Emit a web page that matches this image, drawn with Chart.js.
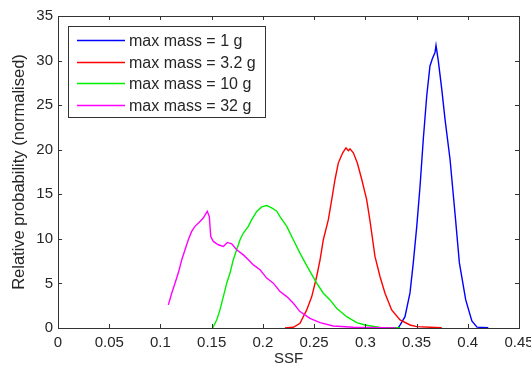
<!DOCTYPE html>
<html>
<head>
<meta charset="utf-8">
<script src="https://cdn.jsdelivr.net/npm/chart.js@4/dist/chart.umd.min.js"></script>
<style>
  html, body { margin: 0; padding: 0; background: #ffffff; }
  canvas { display: block; }
</style>
</head>
<body>
<canvas id="ssfChart" width="531" height="368"></canvas>
<script>
// Series labels
const massLabels = ['max mass = 1 g', 'max mass = 3.2 g', 'max mass = 10 g', 'max mass = 32 g'];
const seriesColors = ['#0000ff', '#ff0000', '#00ee00', '#ff00ff'];

// max mass = 1 g
const ssf1g  = [0.332, 0.334, 0.3387, 0.3436, 0.3468, 0.3502, 0.3534, 0.3566, 0.3599, 0.3631, 0.3654, 0.368, 0.369, 0.3712, 0.3746, 0.3778, 0.3827, 0.3875, 0.3918, 0.398, 0.404, 0.409, 0.42];
const prob1g = [0, 0.34, 1.27, 3.94, 7.31, 11.4, 15.9, 21.2, 26.0, 29.4, 30.2, 30.9, 31.7, 30.0, 26.8, 23.4, 18.9, 12.9, 7.3, 3.15, 0.8, 0.1, 0.02];

// max mass = 3.2 g
const ssf3g  = [0.2216, 0.2297, 0.2362, 0.2428, 0.2477, 0.2525, 0.2558, 0.259, 0.2639, 0.2672, 0.2704, 0.2736, 0.2779, 0.2811, 0.2835, 0.285, 0.2883, 0.2922, 0.2965, 0.3013, 0.3046, 0.3094, 0.3143, 0.3192, 0.3257, 0.3339, 0.3436, 0.3502, 0.3746];
const prob3g = [0, 0.08, 0.53, 2.03, 3.52, 5.78, 7.65, 9.9, 12.15, 14.4, 16.66, 18.5, 19.66, 20.2, 19.9, 20.1, 19.66, 18.5, 16.66, 14.4, 12.0, 8.03, 5.78, 3.9, 2.03, 0.9, 0.34, 0.15, 0.02];

// max mass = 10 g
const ssf10g  = [0.151, 0.1549, 0.1581, 0.1614, 0.1647, 0.1679, 0.1711, 0.1744, 0.1777, 0.1809, 0.1858, 0.1891, 0.194, 0.1988, 0.2037, 0.2086, 0.2135, 0.2167, 0.2233, 0.2297, 0.2362, 0.2428, 0.2525, 0.259, 0.2655, 0.272, 0.2818, 0.2916, 0.2997, 0.3143, 0.3339];
const prob10g = [0, 0.9, 2.03, 3.52, 5.03, 6.16, 7.65, 8.78, 9.9, 10.65, 11.4, 12.15, 13.08, 13.58, 13.73, 13.47, 13.1, 12.5, 11.4, 9.9, 8.4, 7.0, 5.03, 3.9, 3.15, 2.21, 1.27, 0.6, 0.34, 0.05, 0.02];

// max mass = 32 g
const ssf32g  = [0.1077, 0.111, 0.1142, 0.1174, 0.1208, 0.124, 0.1272, 0.1305, 0.1337, 0.1386, 0.1418, 0.1457, 0.1477, 0.1491, 0.1516, 0.1565, 0.1614, 0.1653, 0.1696, 0.1744, 0.1809, 0.1858, 0.1907, 0.1972, 0.2037, 0.2102, 0.2167, 0.2233, 0.2297, 0.2362, 0.246, 0.2558, 0.2687, 0.288, 0.33];
const prob32g = [2.59, 3.9, 5.03, 6.16, 7.65, 8.78, 9.9, 10.84, 11.4, 11.96, 12.34, 13.09, 12.5, 10.27, 9.71, 9.34, 9.15, 9.6, 9.45, 8.78, 8.2, 7.65, 7.08, 6.53, 5.6, 5.03, 4.1, 3.52, 2.77, 1.84, 1.09, 0.6, 0.23, 0.08, 0.01];

// Axis ranges and tick steps
const xTicks = [0, 0.05, 0.1, 0.15, 0.2, 0.25, 0.3, 0.35, 0.4, 0.45];
const yTicks = [0, 5, 10, 15, 20, 25, 30, 35];

const FONT = '"Liberation Sans", Arial, sans-serif';
const INK = '#262626';

function toPoints(xs, ys) {
  return xs.map((x, i) => ({ x: x, y: ys[i] }));
}

const seriesX = [ssf1g, ssf3g, ssf10g, ssf32g];
const seriesY = [prob1g, prob3g, prob10g, prob32g];

const datasets = massLabels.map((label, i) => ({
  label: label,
  data: toPoints(seriesX[i], seriesY[i]),
  borderColor: seriesColors[i],
  backgroundColor: seriesColors[i],
  borderWidth: 1.4,
  pointRadius: 0,
  tension: 0,
  fill: false,
  order: 3 - i
}));

// Box frame, inward ticks and the boxed legend in the upper left
const framePlugin = {
  id: 'framePlugin',
  afterDraw(chart) {
    const ctx = chart.ctx;
    const a = chart.chartArea;
    const xs = chart.scales.x, ys = chart.scales.y;
    ctx.save();
    ctx.strokeStyle = '#333333';
    ctx.lineWidth = 1;
    ctx.strokeRect(Math.round(a.left) + 0.5, Math.round(a.top) + 0.5,
                   Math.round(a.right - a.left), Math.round(a.bottom - a.top));
    const tl = 4;
    ctx.beginPath();
    xs.ticks.forEach(t => {
      const p = Math.round(xs.getPixelForValue(t.value)) + 0.5;
      ctx.moveTo(p, a.bottom); ctx.lineTo(p, a.bottom - tl);
      ctx.moveTo(p, a.top); ctx.lineTo(p, a.top + tl);
    });
    ys.ticks.forEach(t => {
      const p = Math.round(ys.getPixelForValue(t.value)) + 0.5;
      ctx.moveTo(a.left, p); ctx.lineTo(a.left + tl, p);
      ctx.moveTo(a.right, p); ctx.lineTo(a.right - tl, p);
    });
    ctx.stroke();

    // legend
    const bx = Math.round(a.left) + 10, by = Math.round(a.top) + 10;
    const bw = 197, bh = 91;
    ctx.fillStyle = '#ffffff';
    ctx.fillRect(bx, by, bw, bh);
    ctx.strokeStyle = '#333333';
    ctx.strokeRect(bx + 0.5, by + 0.5, bw, bh);
    ctx.font = '16px ' + FONT;
    ctx.textBaseline = 'middle';
    ctx.textAlign = 'left';
    massLabels.forEach((label, i) => {
      const ry = Math.round(by + 14 + i * 21.5) + 0.5;
      ctx.beginPath();
      ctx.strokeStyle = seriesColors[i];
      ctx.lineWidth = 1.4;
      ctx.moveTo(bx + 9, ry);
      ctx.lineTo(bx + 57, ry);
      ctx.stroke();
      ctx.fillStyle = INK;
      ctx.fillText(label, bx + 61, ry + 1);
    });
    ctx.restore();
  }
};

new Chart(document.getElementById('ssfChart'), {
  type: 'line',
  data: { datasets: datasets },
  plugins: [framePlugin],
  options: {
    responsive: false,
    animation: false,
    devicePixelRatio: 1,
    layout: { padding: { left: 0, top: 16, right: 12, bottom: 0 } },
    plugins: { legend: { display: false }, tooltip: { enabled: false } },
    scales: {
      x: {
        type: 'linear',
        min: xTicks[0],
        max: xTicks[xTicks.length - 1],
        afterBuildTicks(scale) { scale.ticks = xTicks.map(v => ({ value: v })); },
        afterFit(scale) { scale.height = 40; scale.paddingLeft = 0; scale.paddingRight = 0; },
        grid: { display: false, drawTicks: false },
        border: { display: false },
        ticks: {
          padding: 6,
          color: INK,
          font: { family: FONT, size: 15 },
          maxRotation: 0,
          autoSkip: false,
          callback: v => String(parseFloat(Number(v).toFixed(2)))
        },
        title: {
          display: true,
          text: 'SSF',
          color: INK,
          font: { family: FONT, size: 15 },
          padding: { top: 0, bottom: 0 }
        }
      },
      y: {
        type: 'linear',
        min: yTicks[0],
        max: yTicks[yTicks.length - 1],
        afterBuildTicks(scale) { scale.ticks = yTicks.map(v => ({ value: v })); },
        afterFit(scale) { scale.width = 58; scale.paddingTop = 0; scale.paddingBottom = 0; },
        grid: { display: false, drawTicks: false },
        border: { display: false },
        ticks: {
          padding: 5,
          color: INK,
          font: { family: FONT, size: 15 },
          autoSkip: false,
          callback: v => String(v)
        },
        title: {
          display: true,
          text: 'Relative probability (normalised)',
          color: INK,
          font: { family: FONT, size: 16.5 },
          padding: { top: 10, bottom: 0 }
        }
      }
    }
  }
});
</script>
</body>
</html>
